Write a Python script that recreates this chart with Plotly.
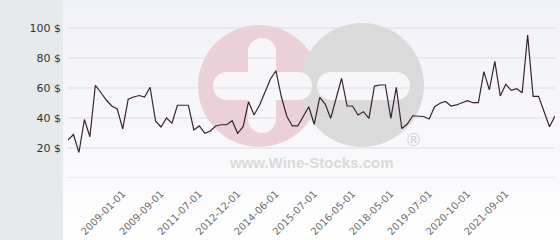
import base64
import plotly.graph_objects as go

# ---- data ----
prices = [25.3, 29, 17, 39, 27.5, 61.8, 57, 52, 48, 46,
          32.7, 52.5, 54, 55, 54, 60.5, 38, 34, 40, 36.5,
          48.5, 48.5, 48.5, 32, 34.7, 29.8, 31.3, 34.7, 35.5, 35.5,
          38.2, 29.8, 34.2, 50.9, 42, 48.5, 57, 66, 71.5, 54,
          41, 34.7, 34.7, 41, 47.5, 35.8, 53.8, 49.3, 39.8, 53,
          66.5, 48, 48, 42, 44.2, 39.8, 61.3, 62, 62, 39.8,
          60.5, 33, 36, 41.5, 41.5, 41, 39.3, 47.5, 49.8, 51,
          48, 48.7, 50.2, 51.5, 50.2, 50.2, 70.9, 58.7, 77.8, 54.7,
          62.5, 58.4, 59.5, 56.9, 95.3, 54.4, 54.4, 44.2, 34.2, 41.3]
points = list(range(len(prices)))
tick_points = [10, 17, 24, 31, 38, 45, 52, 59, 66, 73, 80]
tick_labels = ["2009-01-01", "2009-09-01", "2011-07-01", "2012-12-01", "2014-06-01",
               "2015-07-01", "2016-05-01", "2018-05-01", "2019-07-01", "2020-10-01",
               "2021-09-01"]
y_ticks = [20, 40, 60, 80, 100]
y_labels = [f"{v} $" for v in y_ticks]
grid_values = [0] + y_ticks

W, H = 560, 240
L, R, T, B = 68, 5, 13, 62
PW, PH = W - L - R, H - T - B


def px(x):
    return (x - L) / PW


def py(y):
    return (H - B - y) / PH


fig = go.Figure()
fig.add_trace(go.Scatter(x=points, y=prices, mode="lines",
                         line=dict(color="#3a2232", width=1.2),
                         hoverinfo="skip", showlegend=False))

svg = ('<svg xmlns="http://www.w3.org/2000/svg" width="497" height="240">'
       '<defs><linearGradient id="g" x1="0" y1="0" x2="0" y2="1">'
       '<stop offset="0" stop-color="#f1f2f8"/><stop offset="0.75" stop-color="#fafafc"/>'
       '<stop offset="1" stop-color="#ffffff"/></linearGradient></defs>'
       '<rect width="497" height="240" fill="url(#g)"/></svg>')
src = "data:image/svg+xml;base64," + base64.b64encode(svg.encode()).decode()

shapes = []
# left sidebar
shapes.append(dict(type="rect", xref="paper", yref="paper", x0=px(0), x1=px(63),
                   y0=py(H), y1=py(0), fillcolor="#e6eaed", line_width=0, layer="below"))


def circle(cx, cy, r, color):
    return dict(type="circle", xref="paper", yref="paper", x0=px(cx - r), x1=px(cx + r),
                y0=py(cy + r), y1=py(cy - r), fillcolor=color, line_width=0, layer="below")


def rect(x0, y0, x1, y1, color):
    return dict(type="rect", xref="paper", yref="paper", x0=px(x0), x1=px(x1),
                y0=py(y1), y1=py(y0), fillcolor=color, line_width=0, layer="below")


pink, grey, white = "#ebd0d8", "#dadada", "#f7f7fa"
shapes.append(circle(259, 86, 61, pink))
shapes.append(circle(362, 85, 62, grey))
# cross in pink circle
shapes.append(rect(248, 52, 276, 119, white))
shapes.append(circle(262, 52, 14, white))
shapes.append(circle(262, 119, 14, white))
shapes.append(rect(227, 72, 298, 100, white))
shapes.append(circle(227, 86, 14, white))
shapes.append(circle(298, 86, 14, white))
# bar in grey circle
shapes.append(rect(331, 72, 396, 100, white))
shapes.append(circle(331, 86, 14, white))
shapes.append(circle(396, 86, 14, white))
# grid lines drawn over the watermark
for g in grid_values:
    shapes.append(dict(type="line", xref="paper", yref="y", x0=0, x1=1, y0=g, y1=g,
                       line=dict(color="#dcdde1", width=1), layer="below"))

fig.update_layout(
    width=W, height=H, autosize=False,
    margin=dict(l=L, r=R, t=T, b=B, pad=0),
    paper_bgcolor="#ffffff", plot_bgcolor="rgba(0,0,0,0)",
    images=[dict(source=src, xref="paper", yref="paper", x=px(63), y=py(0),
                 sizex=(W - 63) / PW, sizey=H / PH, sizing="stretch",
                 xanchor="left", yanchor="top", layer="below")],
    shapes=shapes,
    annotations=[
        dict(text="<b>www.Wine-Stocks.com</b>", xref="paper", yref="paper",
             x=px(311), y=py(162), xanchor="center", yanchor="middle", showarrow=False,
             font=dict(family="Liberation Sans, Arial", size=15, color="#d9d9d9")),
        dict(text="®", xref="paper", yref="paper", x=px(413), y=py(140),
             xanchor="center", yanchor="middle", showarrow=False,
             font=dict(family="DejaVu Sans", size=17, color="#d0d0d0")),
    ],
    xaxis=dict(range=[0, len(prices) - 1], tickmode="array", tickvals=tick_points,
               ticktext=tick_labels, tickangle=-45, showgrid=False, zeroline=False,
               showline=False, ticks="", ticklabelstandoff=7, automargin=False,
               tickfont=dict(family="DejaVu Sans", size=10, color="#6e6e6e")),
    yaxis=dict(range=[0, 110], tickmode="array", tickvals=y_ticks, ticktext=y_labels,
               showgrid=False, zeroline=False, showline=False, ticks="",
               ticklabelstandoff=6, automargin=False,
               tickfont=dict(family="DejaVu Sans", size=11, color="#333333")),
)

fig.write_html("out.html")
